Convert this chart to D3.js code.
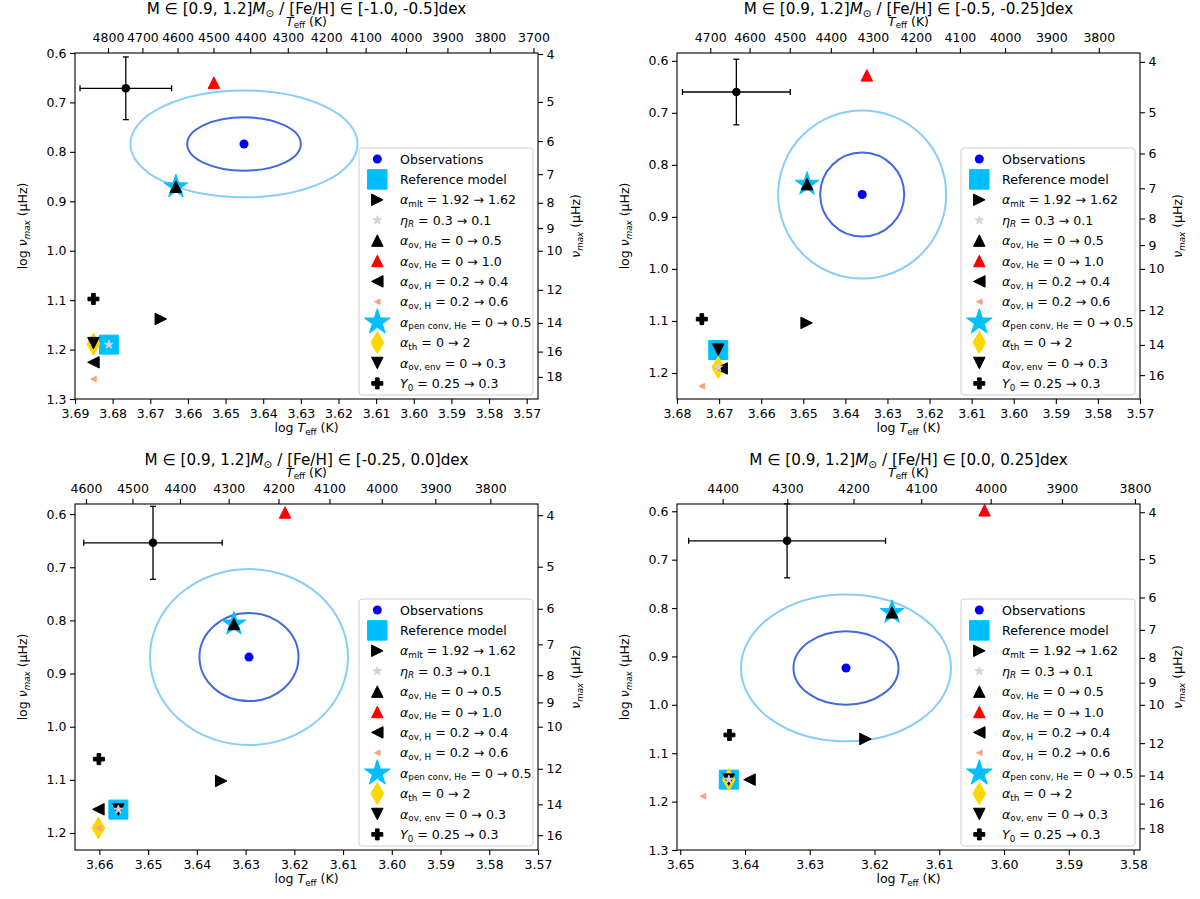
<!DOCTYPE html>
<html><head><meta charset="utf-8">
<script src="https://cdn.jsdelivr.net/npm/d3@7"></script>
<style>
body{margin:0;background:#fff}
svg text{font-family:"DejaVu Sans",sans-serif;fill:#000}
</style>
</head><body>
<svg id="c" width="1200" height="899"></svg>
<script>
// ---------------- DATA ----------------
const massRange = "[0.9, 1.2]";
const feHRanges = ["[-1.0, -0.5]", "[-0.5, -0.25]", "[-0.25, 0.0]", "[0.0, 0.25]"];

// axis limits (log Teff reversed, log numax reversed)
const xLimits = [[3.69, 3.567], [3.68, 3.57], [3.665, 3.57], [3.6505, 3.579]];
const yLimits = [[0.6, 1.3], [0.585, 1.25], [0.581, 1.232], [0.585, 1.3]];

// tick labels
const logTeffTicks = [
  [3.69, 3.68, 3.67, 3.66, 3.65, 3.64, 3.63, 3.62, 3.61, 3.60, 3.59, 3.58, 3.57],
  [3.68, 3.67, 3.66, 3.65, 3.64, 3.63, 3.62, 3.61, 3.60, 3.59, 3.58, 3.57],
  [3.66, 3.65, 3.64, 3.63, 3.62, 3.61, 3.60, 3.59, 3.58, 3.57],
  [3.65, 3.64, 3.63, 3.62, 3.61, 3.60, 3.59, 3.58]
];
const teffTicks = [
  [4800, 4700, 4600, 4500, 4400, 4300, 4200, 4100, 4000, 3900, 3800, 3700],
  [4700, 4600, 4500, 4400, 4300, 4200, 4100, 4000, 3900, 3800],
  [4600, 4500, 4400, 4300, 4200, 4100, 4000, 3900, 3800],
  [4400, 4300, 4200, 4100, 4000, 3900, 3800]
];
const logNumaxTicks = [
  [0.6, 0.7, 0.8, 0.9, 1.0, 1.1, 1.2, 1.3],
  [0.6, 0.7, 0.8, 0.9, 1.0, 1.1, 1.2],
  [0.6, 0.7, 0.8, 0.9, 1.0, 1.1, 1.2],
  [0.6, 0.7, 0.8, 0.9, 1.0, 1.1, 1.2, 1.3]
];
const numaxTicks = [4, 5, 6, 7, 8, 9, 10, 12, 14, 16, 18];

// observations: [log Teff, log numax] and 1-sigma half widths
const obsPoint = [[3.6451, 0.784], [3.636, 0.857], [3.6293, 0.869], [3.6244, 0.9238]];
const obsSigma = [[0.01509, 0.054], [0.00998, 0.0808], [0.01016, 0.0828], [0.00811, 0.0758]];

// typical error bar: [log Teff, log numax, err logTeff, err lognumax]
const errorBarPoint = [
  [3.6765, 0.6714, 0.01217, 0.0634],
  [3.6659, 0.660, 0.0128, 0.0631],
  [3.649, 0.654, 0.0142, 0.0687],
  [3.6335, 0.6611, 0.0152, 0.0765]
];

// models [log Teff, log numax] per panel
const refModel   = [[3.6810, 1.190], [3.6702, 1.156], [3.6561, 1.156], [3.6425, 1.1546]];
const alphaMlt   = [[3.6672, 1.138], [3.6492, 1.1037], [3.6350, 1.102], [3.6214, 1.0706]];
const etaR       = [[3.6810, 1.190], [3.6702, 1.1894], [3.6561, 1.156], [3.6425, 1.1546]];
const ovHe05     = [[3.6632, 0.8705], [3.6491, 0.837], [3.6324, 0.8067], [3.6173, 0.8088]];
const ovHe10     = [[3.6531, 0.660], [3.6349, 0.628], [3.6219, 0.597], [3.6030, 0.598]];
const ovH04      = [[3.6851, 1.2257], [3.6694, 1.1913], [3.6602, 1.1555], [3.6393, 1.1546]];
const ovH06      = [[3.6851, 1.2596], [3.6741, 1.2254], [3.6602, 1.1905], [3.6465, 1.189]];
const penConvHe  = [[3.6632, 0.8705], [3.6491, 0.837], [3.6324, 0.8067], [3.6173, 0.8088]];
const alphaTh    = [[3.6851, 1.189], [3.6702, 1.1894], [3.6602, 1.1905], [3.6425, 1.1546]];
const ovEnv      = [[3.6851, 1.187], [3.6702, 1.155], [3.6561, 1.156], [3.6425, 1.1546]];
const heliumY0   = [[3.6851, 1.0977], [3.6741, 1.0965], [3.6601, 1.061], [3.6424, 1.0623]];

// legend labels: [symbol, subscript, rest]
const legendLabels = [
  ["Observations"],
  ["Reference model"],
  ["α", "mlt", " = 1.92 → 1.62"],
  ["η", "R", " = 0.3 → 0.1"],
  ["α", "ov, He", " = 0 → 0.5"],
  ["α", "ov, He", " = 0 → 1.0"],
  ["α", "ov, H", " = 0.2 → 0.4"],
  ["α", "ov, H", " = 0.2 → 0.6"],
  ["α", "pen conv, He", " = 0 → 0.5"],
  ["α", "th", " = 0 → 2"],
  ["α", "ov, env", " = 0 → 0.3"],
  ["Y", "0", " = 0.25 → 0.3"]
];

// ---------------- STYLES / LAYOUT ----------------
const series = {
  ref:     {data: refModel,  shape: "square", size: 19, fill: "#00bfff"},
  mlt:     {data: alphaMlt,  shape: "right",  size: 11.5, fill: "#000"},
  etaR:    {data: etaR,      shape: "star",   size: 9,  fill: "#d3d3d3"},
  ovHe05:  {data: ovHe05,    shape: "up",     size: 11.5, fill: "#000"},
  ovHe10:  {data: ovHe10,    shape: "up",     size: 11.5, fill: "#ff0000"},
  ovH04:   {data: ovH04,     shape: "left",   size: 11.5, fill: "#000"},
  ovH06:   {data: ovH06,     shape: "left",   size: 5.5,  fill: "#ffa07a"},
  pen:     {data: penConvHe, shape: "star",   size: 25, fill: "#00bfff"},
  th:      {data: alphaTh,   shape: "diamond",size: 22, fill: "#ffd700"},
  env:     {data: ovEnv,     shape: "down",   size: 11.5, fill: "#000"},
  y0:      {data: heliumY0,  shape: "plus",   size: 11, fill: "#000"}
};
const legendKeys = ["obs", "ref", "mlt", "etaR", "ovHe05", "ovHe10", "ovH04", "ovH06", "pen", "th", "env", "y0"];
const drawOrder = ["ref", "pen", "th", "mlt", "ovHe05", "ovHe10", "ovH04", "ovH06", "env", "y0", "etaR"];

const panels = [{l: 75, t: 53}, {l: 677, t: 53}, {l: 75, t: 504}, {l: 677, t: 504}];
const W = 463, H = 346;
const FS = 12.5;
const LFS = 12.6;
const TFS = 15.2;

function shapePath(shape, s) {
  const h = s / 2;
  switch (shape) {
    case "up": return `M0,${-h}L${h},${h}L${-h},${h}Z`;
    case "down": return `M0,${h}L${h},${-h}L${-h},${-h}Z`;
    case "right": return `M${h},0L${-h},${-h}L${-h},${h}Z`;
    case "left": return `M${-h},0L${h},${-h}L${h},${h}Z`;
    case "square": return `M${-h},${-h}H${h}V${h}H${-h}Z`;
    case "diamond": { const w = s * 0.29; return `M0,${-h}L${w},0L0,${h}L${-w},0Z`; }
    case "plus": { const a = s / 6; const b = 3 * a;
      return `M${-a},${-b}H${a}V${-a}H${b}V${a}H${a}V${b}H${-a}V${a}H${-b}V${-a}H${-a}Z`; }
    case "star": {
      const R = h, r = R * 0.381966; let p = "";
      for (let k = 0; k < 10; k++) {
        const rad = k % 2 === 0 ? R : r;
        const ang = -Math.PI / 2 + k * Math.PI / 5;
        p += (k === 0 ? "M" : "L") + (rad * Math.cos(ang)).toFixed(2) + "," + (rad * Math.sin(ang)).toFixed(2);
      }
      return p + "Z";
    }
  }
}

function rich(sel, parts, fs, subShift) {
  const sd = subShift === undefined ? 0.22 : subShift;
  let shift = 0;
  parts.forEach(p => {
    const ts = sel.append("tspan").text(p.t);
    const target = p.sub ? fs * sd : 0;
    if (target !== shift) { ts.attr("dy", target - shift); shift = target; }
    if (p.sub) ts.attr("font-size", fs * 0.7);
    if (p.it) ts.attr("font-style", "italic");
  });
}

const svg = d3.select("#c");

function drawPanel(i) {
  const {l: L, t: T} = panels[i];
  const g = svg.append("g");
  const x = d3.scaleLinear().domain(xLimits[i]).range([L, L + W]);
  const y = d3.scaleLinear().domain(yLimits[i]).range([T, T + H]);

  // axes
  const styleAxis = a => {
    a.select(".domain").remove();
    a.selectAll(".tick line").attr("stroke", "#000").attr("stroke-width", 1.1);
    a.selectAll(".tick text").attr("font-size", FS).attr("font-family", "DejaVu Sans").attr("fill", "#000");
  };
  g.append("g").attr("transform", `translate(0,${T + H})`)
    .call(d3.axisBottom(x).tickValues(logTeffTicks[i]).tickFormat(d3.format(".2f")).tickSize(5).tickPadding(5))
    .call(styleAxis);
  g.append("g").attr("transform", `translate(0,${T})`)
    .call(d3.axisTop(x).tickValues(teffTicks[i].map(Math.log10)).tickFormat(d => Math.round(Math.pow(10, d))).tickSize(5).tickPadding(6))
    .call(styleAxis);
  g.append("g").attr("transform", `translate(${L},0)`)
    .call(d3.axisLeft(y).tickValues(logNumaxTicks[i]).tickFormat(d3.format(".1f")).tickSize(5).tickPadding(3.5))
    .call(styleAxis);
  const [y0, y1] = yLimits[i];
  const nu = numaxTicks.filter(v => Math.log10(v) >= y0 && Math.log10(v) <= y1);
  g.append("g").attr("transform", `translate(${L + W},0)`)
    .call(d3.axisRight(y).tickValues(nu.map(Math.log10)).tickFormat(d => Math.round(Math.pow(10, d))).tickSize(5).tickPadding(3.5))
    .call(styleAxis);

  // titles and labels
  const cx = L + W / 2;
  const title = g.append("text").attr("x", cx).attr("y", T - 39.5).attr("text-anchor", "middle").attr("font-size", TFS);
  rich(title, [{t: "M ∈ " + massRange}, {t: "M", it: true}, {t: "⊙", sub: true}, {t: " / [Fe/H] ∈ " + feHRanges[i] + "dex"}], TFS);
  const topLab = g.append("text").attr("x", cx).attr("y", T - 27.5).attr("text-anchor", "middle").attr("font-size", FS);
  rich(topLab, [{t: "T", it: true}, {t: "eff", sub: true}, {t: " (K)"}], FS, 0.16);
  const botLab = g.append("text").attr("x", cx).attr("y", T + H + 33).attr("text-anchor", "middle").attr("font-size", FS);
  rich(botLab, [{t: "log "}, {t: "T", it: true}, {t: "eff", sub: true}, {t: " (K)"}], FS);
  const leftLab = g.append("text").attr("transform", `translate(${L - 48},${T + H / 2}) rotate(-90)`).attr("text-anchor", "middle").attr("font-size", FS);
  rich(leftLab, [{t: "log "}, {t: "ν", it: true}, {t: "max", sub: true, it: true}, {t: " (μHz)"}], FS);
  const rightLab = g.append("text").attr("transform", `translate(${L + W + 42},${T + H / 2}) rotate(-90)`).attr("text-anchor", "middle").attr("font-size", FS);
  rich(rightLab, [{t: "ν", it: true}, {t: "max", sub: true, it: true}, {t: " (μHz)"}], FS);

  // error bar
  const [ex, ey, sx, sy] = errorBarPoint[i];
  const eb = g.append("g").attr("stroke", "#000").attr("stroke-width", 1.3);
  eb.append("line").attr("x1", x(ex - sx)).attr("x2", x(ex + sx)).attr("y1", y(ey)).attr("y2", y(ey));
  eb.append("line").attr("x1", x(ex)).attr("x2", x(ex)).attr("y1", y(ey - sy)).attr("y2", y(ey + sy));
  [ex - sx, ex + sx].forEach(v => eb.append("line").attr("x1", x(v)).attr("x2", x(v)).attr("y1", y(ey) - 3).attr("y2", y(ey) + 3));
  [ey - sy, ey + sy].forEach(v => eb.append("line").attr("y1", y(v)).attr("y2", y(v)).attr("x1", x(ex) - 3).attr("x2", x(ex) + 3));
  g.append("circle").attr("cx", x(ex)).attr("cy", y(ey)).attr("r", 4.3).attr("fill", "#000");

  // observation ellipses (1 and 2 sigma)
  const [ox, oy] = obsPoint[i], [osx, osy] = obsSigma[i];
  [[2, "#87cefa"], [1, "#4169e1"]].forEach(([k, c]) => {
    g.append("ellipse").attr("cx", x(ox)).attr("cy", y(oy))
      .attr("rx", Math.abs(x(ox + k * osx) - x(ox))).attr("ry", Math.abs(y(oy + k * osy) - y(oy)))
      .attr("fill", "none").attr("stroke", c).attr("stroke-width", 2);
  });
  g.append("circle").attr("cx", x(ox)).attr("cy", y(oy)).attr("r", 4.5).attr("fill", "#0000ff");

  // models
  drawOrder.forEach(key => {
    const s = series[key];
    const [px, py] = s.data[i];
    g.append("path").attr("d", shapePath(s.shape, s.size))
      .attr("transform", `translate(${x(px)},${y(py)})`)
      .attr("fill", s.fill).attr("stroke", s.fill).attr("stroke-width", 1);
  });

  // frame
  g.append("rect").attr("x", L).attr("y", T).attr("width", W).attr("height", H)
    .attr("fill", "none").attr("stroke", "#000").attr("stroke-width", 1.1);

  // legend
  const LW = 174, LH = 247;
  const lx = L + W - 5 - LW, ly = T + H - 4 - LH;
  const lg = g.append("g");
  lg.append("rect").attr("x", lx).attr("y", ly).attr("width", LW).attr("height", LH).attr("rx", 3)
    .attr("fill", "#fff").attr("fill-opacity", 0.8).attr("stroke", "#d0d0d0").attr("stroke-width", 1);
  legendKeys.forEach((key, j) => {
    const cy = ly + 11 + j * 20.4, mx = lx + 18.3;
    if (key === "obs") {
      lg.append("circle").attr("cx", mx).attr("cy", cy).attr("r", 4.5).attr("fill", "#0000ff");
    } else {
      const s = series[key];
      let size = s.size;
      if (key === "ref") size = 19.5;
      if (key === "pen") size = 27;
      if (key === "etaR") size = 9;
      lg.append("path").attr("d", shapePath(s.shape, size)).attr("transform", `translate(${mx},${cy})`)
        .attr("fill", s.fill).attr("stroke", s.fill).attr("stroke-width", 1);
    }
    const lab = legendLabels[j];
    const t = lg.append("text").attr("x", lx + 41).attr("y", cy + 4.5).attr("font-size", LFS);
    if (lab.length === 1) t.text(lab[0]);
    else rich(t, [{t: lab[0], it: true}, {t: lab[1], sub: true, it: lab[1] === "R"}, {t: lab[2]}], LFS);
  });
}

[0, 1, 2, 3].forEach(drawPanel);
</script>
</body></html>
